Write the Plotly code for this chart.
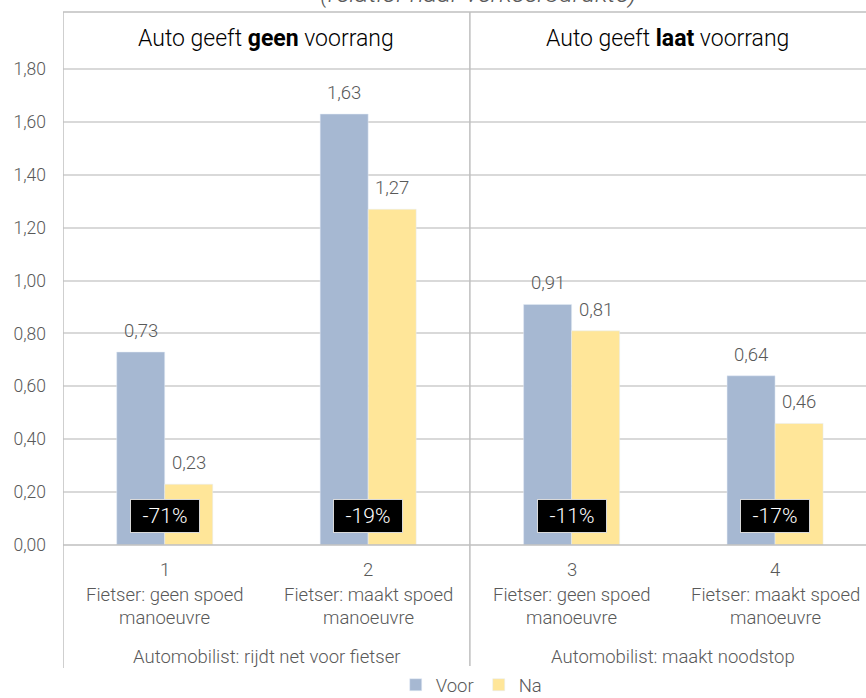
import plotly.graph_objects as go

categories = ["1", "2", "3", "4"]
fietser = ["Fietser: geen spoed", "Fietser: maakt spoed", "Fietser: geen spoed", "Fietser: maakt spoed"]
fietser2 = ["manoeuvre", "manoeuvre", "manoeuvre", "manoeuvre"]
voor = [0.73, 1.63, 0.91, 0.64]
na = [0.23, 1.27, 0.81, 0.46]
change = ["-71%", "-19%", "-11%", "-17%"]
groups = ["Automobilist: rijdt net voor fietser", "Automobilist: maakt noodstop"]
headers = ["Auto geeft <b>geen</b> voorrang", "Auto geeft <b>laat</b> voorrang"]
yticks = [0, 0.2, 0.4, 0.6, 0.8, 1.0, 1.2, 1.4, 1.6, 1.8]
title = "(relatief naar verkeersdrukte)"

BLUE = "#A6B8D2"
YELLOW = "#FFE699"
GRAY = "#595959"
FONT = "Roboto"
TXT = 18.5

xs = list(range(len(categories)))

def fmt(v):
    return f"{v:.2f}".replace(".", ",")

def f(size, color=GRAY):
    return dict(size=size, color=color, family=FONT, weight=300)

fig = go.Figure()
fig.add_trace(go.Bar(x=xs, y=voor, name="Voor", marker_color=BLUE))
fig.add_trace(go.Bar(x=xs, y=na, name="Na", marker_color=YELLOW))

ann = []
for i in xs:
    ann.append(dict(x=i, y=voor[i], xref="x", yref="y", text=fmt(voor[i]), showarrow=False,
                    xshift=-24, yanchor="bottom", yshift=8, font=f(TXT)))
    ann.append(dict(x=i, y=na[i], xref="x", yref="y", text=fmt(na[i]), showarrow=False,
                    xshift=24, yanchor="bottom", yshift=8, font=f(TXT)))
    ann.append(dict(x=i, y=0.11, xref="x", yref="y", text=change[i], showarrow=False,
                    bgcolor="black", bordercolor="#D9D9D9", borderwidth=1, borderpad=4,
                    width=60, height=24, font=f(21, "white")))
    for txt, off in [(categories[i], 25), (fietser[i], 50), (fietser2[i], 73)]:
        ann.append(dict(x=i, y=0, xref="x", yref="paper", text=txt, showarrow=False,
                        yanchor="middle", yshift=-off, font=f(TXT)))

for g, gx in enumerate([0.5, 2.5]):
    ann.append(dict(x=gx, y=0, xref="x", yref="paper", text=groups[g], showarrow=False,
                    yanchor="middle", yshift=-112, font=f(TXT)))
    hx = gx if g == 0 else (1.5 + 3.447) / 2
    ann.append(dict(x=hx, y=1, xref="x", yref="paper", text=headers[g], showarrow=False,
                    yanchor="middle", yshift=-26, font=f(23, "black")))

ann.append(dict(x=1.54, y=1, xref="x", yref="paper", text="<i>" + title + "</i>", showarrow=False,
                yanchor="middle", yshift=19, font=f(26)))

shapes = [
    dict(type="line", xref="x", yref="paper", x0=-0.5, x1=-0.5, y0=-123 / 533, y1=1,
         line=dict(color="#BFBFBF", width=1.5)),
    dict(type="line", xref="x", yref="paper", x0=1.5, x1=1.5, y0=-123 / 533, y1=1,
         line=dict(color="#BFBFBF", width=1.5)),
    dict(type="line", xref="paper", yref="paper", x0=0, x1=1, y0=1, y1=1,
         line=dict(color="#BFBFBF", width=1.5)),
    dict(type="line", xref="paper", yref="paper", x0=0, x1=1, y0=0, y1=0,
         line=dict(color="#BFBFBF", width=1.5)),
]

fig.update_layout(
    width=866, height=698,
    margin=dict(l=63, r=0, t=12, b=153, autoexpand=False),
    plot_bgcolor="white", paper_bgcolor="white",
    barmode="group", bargap=0.528, bargroupgap=0,
    font=dict(family=FONT, color=GRAY, size=16),
    annotations=ann, shapes=shapes,
    legend=dict(orientation="h", x=0.509, xanchor="center", y=-0.263, yanchor="middle",
                font=f(TXT), itemwidth=30, traceorder="normal"),
    showlegend=True,
)
fig.update_xaxes(range=[-0.5, 3.447], showticklabels=False, showgrid=False, zeroline=False, showline=False,
                 fixedrange=True, automargin=False)
fig.update_yaxes(range=[0, 2.016], tickvals=yticks, ticktext=[fmt(v) for v in yticks],
                 showgrid=True, gridcolor="#D9D9D9", gridwidth=1.5, zeroline=False, showline=False,
                 ticks="", ticklabelstandoff=16, automargin=False, tickfont=f(17.5))

fig.write_html("out.html", config={"displayModeBar": False},
               post_script="document.body.style.margin='0';document.body.style.overflow='hidden';")
